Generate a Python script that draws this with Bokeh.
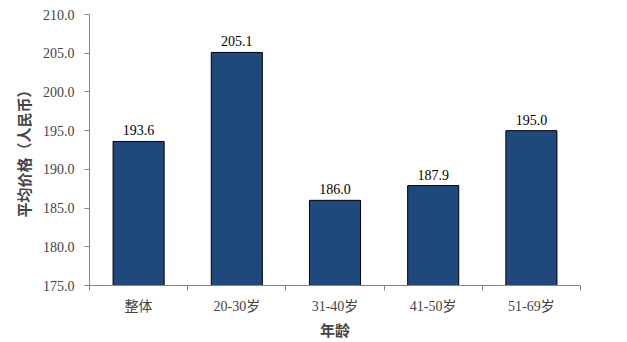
from bokeh.plotting import figure
from bokeh.models import ColumnDataSource, FixedTicker, Range1d, LabelSet
from bokeh.embed import file_html
from bokeh.resources import INLINE

categories = ["整体", "20-30岁", "31-40岁", "41-50岁", "51-69岁"]
values = [193.6, 205.1, 186.0, 187.9, 195.0]
y_ticks = [175.0, 180.0, 185.0, 190.0, 195.0, 200.0, 205.0, 210.0]

xs = [i + 0.5 for i in range(len(categories))]
src = ColumnDataSource(dict(x=xs, top=values, label=[f"{v:.1f}" for v in values]))

FONT = "Liberation Serif, Times New Roman, Noto Sans CJK SC"

p = figure(width=627, height=342, output_backend="svg", toolbar_location=None,
           x_range=Range1d(0, len(categories)), y_range=Range1d(175, 210))
p.min_border_left = 89
p.min_border_right = 47
p.min_border_top = 14
p.min_border_bottom = 57
p.outline_line_color = None
p.xgrid.visible = False
p.ygrid.visible = False

p.vbar(x="x", top="top", bottom=175, width=0.52, source=src,
       fill_color="#1F497D", line_color="#000000", line_width=1)

labels = LabelSet(x="x", y="top", text="label", source=src, text_align="center",
                  y_offset=6, text_font=FONT, text_font_size="14px", text_color="#000000")
p.add_layout(labels)

p.xaxis.ticker = FixedTicker(ticks=xs, minor_ticks=list(range(len(categories) + 1)))
p.xaxis.major_label_overrides = {x: c for x, c in zip(xs, categories)}
p.xaxis.major_tick_line_color = None
p.xaxis.minor_tick_line_color = "#868686"
p.xaxis.minor_tick_out = 5
p.xaxis.minor_tick_in = 0
p.xaxis.axis_line_color = "#868686"
p.xaxis.major_label_text_font = FONT
p.xaxis.major_label_text_font_size = "14px"
p.xaxis.major_label_standoff = 7
p.xaxis.axis_label = "年龄"
p.xaxis.axis_label_text_font = FONT
p.xaxis.axis_label_text_font_size = "15px"
p.xaxis.axis_label_text_font_style = "bold"
p.xaxis.axis_label_standoff = 6

p.yaxis.ticker = FixedTicker(ticks=y_ticks)
p.yaxis.major_label_overrides = {t: f"{t:.1f}" for t in y_ticks}
p.yaxis.minor_tick_line_color = None
p.yaxis.major_tick_line_color = "#868686"
p.yaxis.major_tick_out = 5
p.yaxis.major_tick_in = 0
p.yaxis.axis_line_color = "#868686"
p.yaxis.major_label_text_font = FONT
p.yaxis.major_label_text_font_size = "14px"
p.yaxis.major_label_standoff = 10
p.yaxis.axis_label = "平均价格（人民币）"
p.yaxis.axis_label_text_font = FONT
p.yaxis.axis_label_text_font_size = "15px"
p.yaxis.axis_label_text_font_style = "bold"
p.yaxis.axis_label_standoff = 7

open("out.html", "w").write(file_html(p, INLINE))
